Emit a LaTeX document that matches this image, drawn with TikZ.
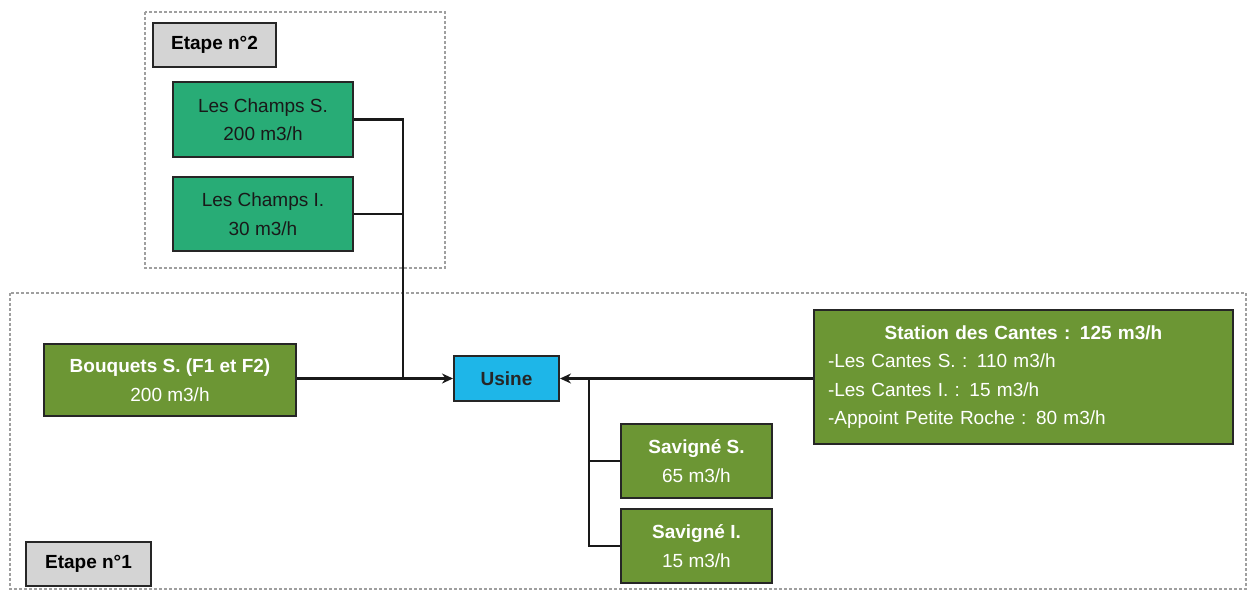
\documentclass[tikz,border=0pt]{standalone}
\usepackage{fontspec}
\setmainfont{Liberation Sans}
\usetikzlibrary{arrows.meta}
\definecolor{champs}{RGB}{40,172,118}
\definecolor{olive}{RGB}{108,150,52}
\definecolor{usine}{RGB}{30,182,232}
\definecolor{etape}{RGB}{212,212,212}
\begin{document}
\begin{tikzpicture}[x=1pt,y=-1pt,
 box/.style={draw=black!85,line width=2pt,anchor=north west,inner sep=0pt,align=center,font=\fontsize{19}{28.5}\selectfont},
 champ/.style={box,fill=champs,text=black!90},
 oliv/.style={box,fill=olive,text=white},
 lab/.style={box,fill=etape,text=black,font=\fontsize{19}{22}\selectfont\bfseries},
 zone/.style={draw=gray!75,line width=1.2pt,dash pattern=on 3pt off 2pt},
 pipe/.style={draw=black!90,line width=2.8pt},
 arr/.style={pipe,-{Stealth[length=11pt,width=10pt]}}]
\useasboundingbox (0,0) rectangle (1249,591);
\draw[zone] (145,12) rectangle (445,268);
\draw[zone] (10,293) rectangle (1246,589);

\node[lab,minimum width=123pt,minimum height=44pt] (e2) at (152,22) {Etape n°2};
\node[lab,minimum width=125pt,minimum height=44pt] (e1) at (25,541) {Etape n°1};

\node[champ,minimum width=180pt,minimum height=75pt] (cs) at (172,81) {Les Champs S.\\200 m3/h};
\node[champ,minimum width=180pt,minimum height=74pt] (ci) at (172,176) {Les Champs I.\\30 m3/h};

\node[oliv,minimum width=252pt,minimum height=72pt] (bq) at (43,343) {\textbf{Bouquets S. (F1 et F2)}\\200 m3/h};
\node[box,fill=usine,text=black!85,minimum width=105pt,minimum height=45pt,font=\fontsize{19}{22}\selectfont\bfseries] (us) at (453,355) {Usine};
\node[oliv,minimum width=419pt,minimum height=134pt,text width=391pt,align=left] (st) at (813,309)
 {\makebox[\hsize][c]{\bfseries Station des Cantes : 125 m3/h}\\-Les Cantes S. : 110 m3/h\\-Les Cantes I. : 15 m3/h\\-Appoint Petite Roche : 80 m3/h};
\node[oliv,minimum width=151pt,minimum height=74pt] (ss) at (620,423) {\textbf{Savigné S.}\\65 m3/h};
\node[oliv,minimum width=151pt,minimum height=74pt] (si) at (620,508) {\textbf{Savigné I.}\\15 m3/h};

\coordinate (j1) at (403,377.5);
\coordinate (j2) at (589,377.5);
\draw[pipe] (cs.east) -| (j1);
\draw[pipe] (ci.east) -| (j1);
\draw[arr] (bq.east |- us.west) -- (us.west);
\draw[arr] (st.west |- us.east) -- (us.east);
\draw[pipe] (j2) |- (ss.west);
\draw[pipe] (j2) |- (si.west);
\end{tikzpicture}
\end{document}
